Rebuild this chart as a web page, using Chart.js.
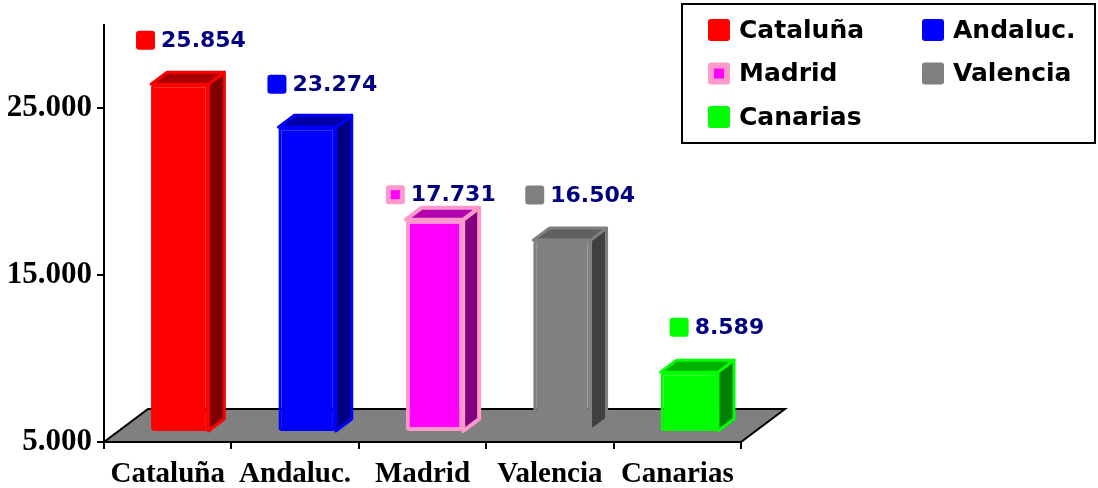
<!DOCTYPE html>
<html>
<head>
<meta charset="utf-8">
<script src="https://cdn.jsdelivr.net/npm/chart.js@4.4.0/dist/chart.umd.min.js"></script>
<style>
  html, body { margin: 0; padding: 0; background: #fff; }
  #wrap { width: 1098px; height: 488px; }
</style>
</head>
<body>
<div id="wrap"><canvas id="graf"></canvas></div>
<script>
// datos ------------------------------------------
const categories = ['Cataluña', 'Andaluc.', 'Madrid', 'Valencia', 'Canarias'];
const values = [25854, 23274, 17731, 16504, 8589];
const yTicks = [5000, 15000, 25000];

// colores de las barras
const frontColors = ['#FF0000', '#0000FF', '#FF00FF', '#808080', '#00FF00'];
const sideColors  = ['#800000', '#000080', '#800080', '#404040', '#008000'];
const topColors   = ['#A80000', '#0000A8', '#B000B0', '#606060', '#00B000'];
const edgeColors  = ['#FF0000', '#0000FF', '#FF99CC', '#808080', '#00FF00'];
const edgeWidths  = [3, 3, 4, 3, 3];

// desplazamiento de las etiquetas respecto a la cara frontal (izq., arriba)
const labelOffsets = [[-15, -44], [-11, -43], [-20, -25], [-8, -45], [9, -45]];

const DX = 12, DY = -10;   // las barras están a media profundidad del suelo
const SX = 16, SY = -12;   // fondo de cada barra
const FX = 44, FY = -33;   // fondo del suelo

const fmt = v => String(v).replace(/\B(?=(\d{3})+(?!\d))/g, '.');

function keyBox(ctx, x, y, s, i) {
  ctx.fillStyle = edgeColors[i];
  ctx.beginPath();
  ctx.roundRect(x, y, s, s, 3);
  ctx.fill();
  if (edgeColors[i] !== frontColors[i]) {
    const w = Math.round(s * 0.45);
    ctx.fillStyle = frontColors[i];
    ctx.fillRect(x + (s - w) / 2, y + (s - w) / 2, w, w);
  }
}

function poly(ctx, pts, fill, stroke, lw) {
  ctx.beginPath();
  ctx.moveTo(pts[0][0], pts[0][1]);
  for (let k = 1; k < pts.length; k++) ctx.lineTo(pts[k][0], pts[k][1]);
  ctx.closePath();
  ctx.fillStyle = fill;
  ctx.fill();
  ctx.strokeStyle = stroke;
  ctx.lineWidth = lw;
  ctx.lineJoin = 'round';
  ctx.stroke();
}

// efecto 3D: suelo, caras laterales, etiquetas y leyenda
const bars3d = {
  id: 'bars3d',
  beforeDatasetsDraw(chart) {
    const ctx = chart.ctx, a = chart.chartArea;
    const y0 = chart.scales.y.getPixelForValue(yTicks[0]);
    ctx.save();
    ctx.beginPath();
    ctx.moveTo(a.left, y0);
    ctx.lineTo(a.right, y0);
    ctx.lineTo(a.right + FX, y0 + FY);
    ctx.lineTo(a.left + FX, y0 + FY);
    ctx.closePath();
    ctx.fillStyle = '#808080';
    ctx.fill();
    ctx.strokeStyle = '#000';
    ctx.lineWidth = 2;
    ctx.stroke();
    ctx.restore();
    ctx.save();
    ctx.translate(DX, DY);
  },
  afterDatasetsDraw(chart) {
    const ctx = chart.ctx;
    chart.getDatasetMeta(0).data.forEach((el, i) => {
      const p = el.getProps(['x', 'y', 'base', 'width'], true);
      const x0 = p.x - p.width / 2, x1 = p.x + p.width / 2;
      poly(ctx, [[x1, p.y], [x1 + SX, p.y + SY], [x1 + SX, p.base + SY], [x1, p.base]],
        sideColors[i], edgeColors[i], edgeWidths[i]);
      poly(ctx, [[x0, p.y], [x1, p.y], [x1 + SX, p.y + SY], [x0 + SX, p.y + SY]],
        topColors[i], edgeColors[i], edgeWidths[i]);
    });
    ctx.restore();
  },
  afterDraw(chart) {
    const ctx = chart.ctx;
    ctx.save();
    // etiquetas de valor
    ctx.font = 'bold 22px "DejaVu Sans"';
    ctx.textBaseline = 'middle';
    ctx.textAlign = 'left';
    chart.getDatasetMeta(0).data.forEach((el, i) => {
      const p = el.getProps(['x', 'y', 'width'], true);
      const left = p.x - p.width / 2 + DX, top = p.y + DY;
      const kx = left + labelOffsets[i][0], cy = top + labelOffsets[i][1];
      keyBox(ctx, kx, cy - 9.5, 19, i);
      ctx.fillStyle = '#000080';
      ctx.fillText(fmt(values[i]), kx + 25, cy + 1);
    });
    // leyenda
    ctx.strokeStyle = '#000';
    ctx.lineWidth = 2;
    ctx.strokeRect(682, 4, 413, 139);
    ctx.font = 'bold 25px "DejaVu Sans"';
    ctx.fillStyle = '#000';
    categories.forEach((c, i) => {
      const col = i % 2, row = Math.floor(i / 2);
      const x = 708 + col * 214, cy = 30 + row * 43.5;
      keyBox(ctx, x, cy - 11, 22, i);
      ctx.fillStyle = '#000';
      ctx.fillText(c, x + 31, cy + 1);
    });
    ctx.restore();
  }
};

const ctxBar = document.getElementById('graf').getContext('2d');
new Chart(ctxBar, {
  type: 'bar',
  data: {
    labels: categories,
    datasets: [{
      data: values,
      base: yTicks[0],
      backgroundColor: frontColors,
      borderColor: edgeColors,
      borderWidth: edgeWidths,
      borderSkipped: false,
      borderRadius: 3,
      categoryPercentage: 1,
      barPercentage: 0.45,
      clip: false
    }]
  },
  options: {
    responsive: true,
    maintainAspectRatio: false,
    animation: false,
    events: [],
    layout: { padding: { top: 25, right: 357, left: 0, bottom: 0 } },
    plugins: {
      legend: { display: false },
      tooltip: { enabled: false }
    },
    scales: {
      x: {
        grid: { offset: true, drawOnChartArea: false, tickLength: 7, color: '#000', lineWidth: 2 },
        border: { color: '#000', width: 2 },
        ticks: {
          color: '#000',
          padding: 8,
          font: { family: '"Liberation Serif"', weight: 'bold', size: 29 }
        },
        afterFit(scale) { scale.height = 46; }
      },
      y: {
        min: 5000,
        max: 30000,
        grid: { drawOnChartArea: false, tickLength: 7, color: '#000', lineWidth: 2 },
        border: { color: '#000', width: 2 },
        ticks: {
          color: '#000',
          padding: 5,
          font: { family: '"Liberation Serif"', weight: 'bold', size: 31 },
          callback: v => fmt(v)
        },
        afterBuildTicks(scale) { scale.ticks = yTicks.map(v => ({ value: v })); },
        afterFit(scale) { scale.width = 104; }
      }
    }
  },
  plugins: [bars3d]
});
</script>
</body>
</html>
